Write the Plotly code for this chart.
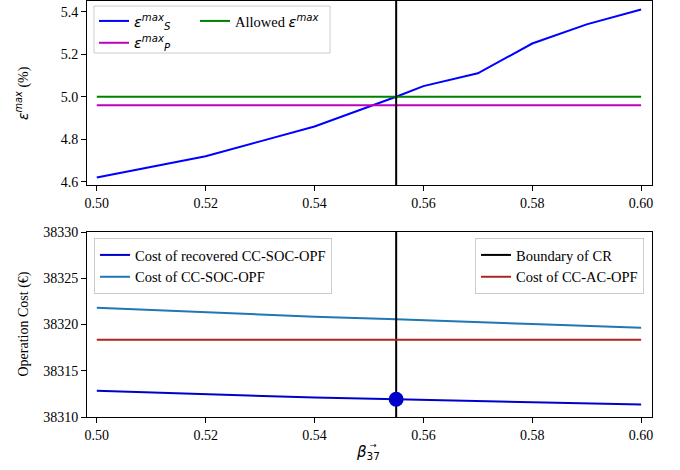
import plotly.graph_objects as go

# ---------------- data ----------------
beta_top = [0.50, 0.51, 0.52, 0.53, 0.54, 0.555, 0.56, 0.57, 0.58, 0.59, 0.60]
eps_s = [4.62, 4.67, 4.72, 4.79, 4.86, 5.00, 5.05, 5.11, 5.25, 5.34, 5.41]
eps_p_const = 4.96
eps_allowed = 5.00

beta_bot = [0.50, 0.52, 0.54, 0.555, 0.56, 0.58, 0.60]
cost_recovered = [38312.85, 38312.49, 38312.10, 38311.92, 38311.85, 38311.60, 38311.34]
cost_soc = [38321.82, 38321.32, 38320.85, 38320.56, 38320.45, 38320.05, 38319.66]
cost_ac_const = 38318.36

boundary = 0.555
boundary_cost = 38311.92

x_ticks = [0.50, 0.52, 0.54, 0.56, 0.58, 0.60]
top_yticks = [4.6, 4.8, 5.0, 5.2, 5.4]
bot_yticks = [38310, 38315, 38320, 38325, 38330]

# ---------------- layout geometry ----------------
W, H = 680, 470
ML, MR, MT, MB = 87, 28, 1, 53
PW = W - ML - MR
PH = H - MT - MB


def px_x(px):
    return (px - ML) / PW


def px_y(py):
    return 1 - (py - MT) / PH


SERIF = "Liberation Serif, Times New Roman, serif"
MATH = "<span style=\"font-family:'DejaVu Sans';font-style:italic\">{}</span>"

eps_s_name = MATH.format("ε<sup>max</sup><sub>S</sub>")
eps_p_name = MATH.format("ε<sup>max</sup><sub>P</sub>")
allowed_name = "Allowed " + MATH.format("ε<sup>max</sup>")

fig = go.Figure()

ends = [beta_top[0], beta_top[-1]]

# top subplot
fig.add_trace(go.Scatter(x=beta_top, y=eps_s, mode="lines", name=eps_s_name,
                         line=dict(color="#0000ff", width=2), xaxis="x", yaxis="y",
                         legend="legend"))
fig.add_trace(go.Scatter(x=ends, y=[eps_p_const] * 2, mode="lines", name=eps_p_name,
                         line=dict(color="#bf00bf", width=2), xaxis="x", yaxis="y",
                         legend="legend"))
fig.add_trace(go.Scatter(x=ends, y=[eps_allowed] * 2, mode="lines", name=allowed_name,
                         line=dict(color="#008000", width=2), xaxis="x", yaxis="y",
                         legend="legend2"))
fig.add_trace(go.Scatter(x=[boundary, boundary], y=[4.0, 6.0], mode="lines",
                         line=dict(color="black", width=2), xaxis="x", yaxis="y",
                         showlegend=False))

# bottom subplot
fig.add_trace(go.Scatter(x=beta_bot, y=cost_recovered, mode="lines",
                         name="Cost of recovered CC-SOC-OPF",
                         line=dict(color="#0000cd", width=2), xaxis="x2", yaxis="y2",
                         legend="legend3"))
fig.add_trace(go.Scatter(x=beta_bot, y=cost_soc, mode="lines",
                         name="Cost of CC-SOC-OPF",
                         line=dict(color="#1f77b4", width=2), xaxis="x2", yaxis="y2",
                         legend="legend3"))
fig.add_trace(go.Scatter(x=[boundary, boundary], y=[38300, 38340], mode="lines",
                         name="Boundary of CR",
                         line=dict(color="black", width=2), xaxis="x2", yaxis="y2",
                         legend="legend4"))
fig.add_trace(go.Scatter(x=[beta_bot[0], beta_bot[-1]], y=[cost_ac_const] * 2, mode="lines",
                         name="Cost of CC-AC-OPF",
                         line=dict(color="#b22222", width=2), xaxis="x2", yaxis="y2",
                         legend="legend4"))
fig.add_trace(go.Scatter(x=[boundary], y=[boundary_cost], mode="markers",
                         marker=dict(color="#0000cd", size=15), xaxis="x2", yaxis="y2",
                         showlegend=False))

xr = [0.4982, 0.6020]
axis_common = dict(showline=True, linecolor="black", linewidth=1, mirror=True,
                   ticks="outside", ticklen=5, tickwidth=1, tickcolor="black",
                   showgrid=False, zeroline=False, automargin=False,
                   tickfont=dict(family=SERIF, size=14, color="black"))

LEGFONT = dict(family=SERIF, size=14.5, color="black")

fig.update_layout(
    width=W, height=H,
    margin=dict(l=ML, r=MR, t=MT, b=MB, autoexpand=False),
    plot_bgcolor="white", paper_bgcolor="white",
    font=dict(family=SERIF, size=14, color="black"),
    xaxis=dict(domain=[0, 1], range=xr, anchor="y", tickvals=x_ticks,
               tickformat=".2f", **axis_common),
    yaxis=dict(domain=[px_y(185), 1], range=[4.585, 5.45], anchor="x",
               tickvals=top_yticks, tickformat=".1f", **axis_common),
    xaxis2=dict(domain=[0, 1], range=xr, anchor="y2", tickvals=x_ticks,
                tickformat=".2f", **axis_common),
    yaxis2=dict(domain=[0, px_y(232)], range=[38310, 38330], anchor="x2",
                tickvals=bot_yticks, tickformat="d", **axis_common),
    legend=dict(x=px_x(94), y=px_y(5), xanchor="left", yanchor="top",
                bgcolor="rgba(0,0,0,0)", borderwidth=0,
                font=LEGFONT, tracegroupgap=0),
    legend2=dict(x=px_x(195), y=px_y(5), xanchor="left", yanchor="top",
                 bgcolor="rgba(0,0,0,0)", borderwidth=0,
                 font=LEGFONT),
    legend3=dict(x=px_x(94), y=px_y(238), xanchor="left", yanchor="top",
                 bgcolor="rgba(255,255,255,0.8)", bordercolor="#cccccc", borderwidth=1,
                 font=LEGFONT),
    legend4=dict(x=px_x(644), y=px_y(238), xanchor="right", yanchor="top",
                 bgcolor="rgba(255,255,255,0.8)", bordercolor="#cccccc", borderwidth=1,
                 font=LEGFONT),
    shapes=[dict(type="rect", xref="paper", yref="paper",
                 x0=px_x(94), x1=px_x(330), y0=px_y(53), y1=px_y(6),
                 line=dict(color="#cccccc", width=1),
                 fillcolor="rgba(255,255,255,0.8)", layer="above")],
    annotations=[
        dict(text=MATH.format("ε<sup>max</sup>") + " (%)", xref="paper", yref="paper",
             x=px_x(22), y=(px_y(185) + 1) / 2, textangle=-90, showarrow=False,
             xanchor="center", yanchor="middle", font=dict(family=SERIF, size=14)),
        dict(text="Operation Cost (€)", xref="paper", yref="paper",
             x=px_x(23), y=px_y(232) / 2, textangle=-90, showarrow=False,
             xanchor="center", yanchor="middle", font=dict(family=SERIF, size=14)),
        dict(text=MATH.format("β") + "<sub>37</sub>", xref="paper", yref="paper",
             x=px_x(368), y=px_y(453), showarrow=False,
             xanchor="center", yanchor="middle", font=dict(family="DejaVu Sans", size=15)),
        dict(text="→", xref="paper", yref="paper",
             x=px_x(373), y=px_y(445), showarrow=False,
             xanchor="center", yanchor="middle", font=dict(family="DejaVu Sans", size=8)),
    ],
)

fig.write_html("out.html", config={"displayModeBar": False},
               post_script="document.body.style.margin='0';")
